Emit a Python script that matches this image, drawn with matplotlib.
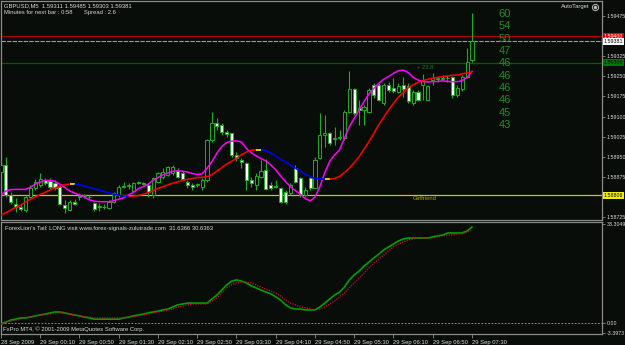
import matplotlib
matplotlib.use("Agg")
import matplotlib.pyplot as plt
from matplotlib.patches import Rectangle
from matplotlib.collections import LineCollection
import matplotlib.transforms as mtransforms

plt.rcParams['font.family'] = ['Liberation Sans', 'DejaVu Sans']

# GBPUSD M5 bars, 28 Sep 23:30 .. 29 Sep 07:30
open_ = [1.58894, 1.58919, 1.58807, 1.58774, 1.58764, 1.58751, 1.58799, 1.58832, 1.58845, 1.58863,
         1.58861, 1.58853, 1.58836, 1.58770, 1.58751, 1.58782, 1.58801, 1.58804, 1.58801, 1.58779,
         1.58766, 1.58764, 1.58758, 1.58782, 1.58807, 1.58838, 1.58841, 1.58823, 1.58856, 1.58853,
         1.58845, 1.58807, 1.58857, 1.58873, 1.58882, 1.58888, 1.58898, 1.58891, 1.58857, 1.58845,
         1.58843, 1.58838, 1.58863, 1.59013, 1.59077, 1.59069, 1.59041, 1.59037, 1.58957, 1.58938,
         1.58925, 1.58863, 1.58845, 1.58876, 1.58901, 1.58845, 1.58841, 1.58832, 1.58820, 1.58814,
         1.58907, 1.58869, 1.58807, 1.58869, 1.58832, 1.58944, 1.59031, 1.59037, 1.59015, 1.59019,
         1.59019, 1.59118, 1.59202, 1.59131, 1.59125, 1.59118, 1.59218, 1.59218, 1.59149, 1.59218,
         1.59205, 1.59193, 1.59218, 1.59214, 1.59149, 1.59193, 1.59218, 1.59162, 1.59236, 1.59241,
         1.59241, 1.59244, 1.59246, 1.59181, 1.59202, 1.59249, 1.59311]
high = [1.58925, 1.58950, 1.58820, 1.58795, 1.58774, 1.58807, 1.58845, 1.58866, 1.58891, 1.58869,
        1.58869, 1.58863, 1.58845, 1.58789, 1.58789, 1.58791, 1.58814, 1.58810, 1.58807, 1.58782,
        1.58776, 1.58774, 1.58789, 1.58820, 1.58845, 1.58857, 1.58851, 1.58857, 1.58858, 1.58857,
        1.58851, 1.58876, 1.58894, 1.58907, 1.58916, 1.58919, 1.58907, 1.58898, 1.58863, 1.58851,
        1.58853, 1.58869, 1.59015, 1.59118, 1.59093, 1.59075, 1.59050, 1.59040, 1.58969, 1.58944,
        1.58932, 1.58876, 1.58888, 1.58938, 1.58940, 1.58857, 1.58863, 1.58838, 1.58826, 1.58853,
        1.58919, 1.58876, 1.58838, 1.58876, 1.58950, 1.59112, 1.59106, 1.59044, 1.59062, 1.59050,
        1.59125, 1.59268, 1.59205, 1.59162, 1.59143, 1.59205, 1.59224, 1.59224, 1.59224, 1.59230,
        1.59243, 1.59224, 1.59249, 1.59224, 1.59199, 1.59199, 1.59259, 1.59218, 1.59261, 1.59251,
        1.59255, 1.59255, 1.59251, 1.59218, 1.59255, 1.59355, 1.59485]
low = [1.58888, 1.58801, 1.58774, 1.58745, 1.58749, 1.58745, 1.58791, 1.58826, 1.58838, 1.58845,
       1.58831, 1.58826, 1.58770, 1.58739, 1.58749, 1.58770, 1.58789, 1.58795, 1.58791, 1.58749,
       1.58749, 1.58754, 1.58754, 1.58779, 1.58801, 1.58832, 1.58828, 1.58820, 1.58848, 1.58843,
       1.58801, 1.58795, 1.58851, 1.58866, 1.58878, 1.58882, 1.58869, 1.58863, 1.58832, 1.58826,
       1.58838, 1.58826, 1.58857, 1.59006, 1.59050, 1.59031, 1.59025, 1.58950, 1.58935, 1.58907,
       1.58826, 1.58838, 1.58826, 1.58869, 1.58826, 1.58826, 1.58832, 1.58776, 1.58774, 1.58807,
       1.58851, 1.58801, 1.58801, 1.58826, 1.58832, 1.58940, 1.58988, 1.58994, 1.58994, 1.59013,
       1.59013, 1.59112, 1.59106, 1.59069, 1.59069, 1.59112, 1.59168, 1.59156, 1.59143, 1.59193,
       1.59187, 1.59187, 1.59174, 1.59149, 1.59143, 1.59156, 1.59162, 1.59156, 1.59218, 1.59230,
       1.59236, 1.59230, 1.59168, 1.59174, 1.59197, 1.59243, 1.59303]
close = [1.58919, 1.58807, 1.58782, 1.58764, 1.58755, 1.58799, 1.58832, 1.58857, 1.58866, 1.58851,
         1.58838, 1.58832, 1.58774, 1.58758, 1.58782, 1.58774, 1.58804, 1.58807, 1.58799, 1.58754,
         1.58761, 1.58761, 1.58782, 1.58814, 1.58836, 1.58841, 1.58843, 1.58851, 1.58851, 1.58848,
         1.58820, 1.58869, 1.58888, 1.58894, 1.58913, 1.58913, 1.58873, 1.58868, 1.58845, 1.58836,
         1.58847, 1.58863, 1.59013, 1.59075, 1.59065, 1.59044, 1.59034, 1.58957, 1.58944, 1.58929,
         1.58863, 1.58851, 1.58878, 1.58897, 1.58828, 1.58832, 1.58836, 1.58782, 1.58782, 1.58845,
         1.58857, 1.58807, 1.58826, 1.58832, 1.58938, 1.59031, 1.59037, 1.59000, 1.59021, 1.59025,
         1.59118, 1.59202, 1.59112, 1.59125, 1.59137, 1.59199, 1.59181, 1.59162, 1.59218, 1.59199,
         1.59195, 1.59214, 1.59202, 1.59156, 1.59193, 1.59162, 1.59236, 1.59214, 1.59243, 1.59243,
         1.59244, 1.59245, 1.59181, 1.59205, 1.59249, 1.59305, 1.59381]

# moving averages drawn over the candles
slow_ma = [1.58733, 1.58741, 1.58751, 1.58761, 1.58770, 1.58780, 1.58791, 1.58800, 1.58809, 1.58817,
           1.58826, 1.58833, 1.58841, 1.58846, 1.58847, 1.58847, 1.58845, 1.58840, 1.58835, 1.58830,
           1.58825, 1.58820, 1.58815, 1.58810, 1.58806, 1.58804, 1.58802, 1.58803, 1.58805, 1.58810,
           1.58816, 1.58823, 1.58832, 1.58838, 1.58845, 1.58851, 1.58856, 1.58861, 1.58866, 1.58869,
           1.58872, 1.58873, 1.58876, 1.58883, 1.58896, 1.58909, 1.58923, 1.58933, 1.58944, 1.58957,
           1.58967, 1.58974, 1.58976, 1.58976, 1.58972, 1.58963, 1.58952, 1.58940, 1.58930, 1.58919,
           1.58907, 1.58896, 1.58884, 1.58876, 1.58869, 1.58867, 1.58866, 1.58866, 1.58869, 1.58876,
           1.58891, 1.58907, 1.58928, 1.58950, 1.58978, 1.59006, 1.59037, 1.59069, 1.59097, 1.59125,
           1.59149, 1.59172, 1.59189, 1.59207, 1.59218, 1.59228, 1.59234, 1.59239, 1.59243, 1.59246,
           1.59249, 1.59251, 1.59254, 1.59255, 1.59259, 1.59263, 1.59266]
fast_ma = [1.58807, 1.58822, 1.58827, 1.58828, 1.58828, 1.58828, 1.58836, 1.58848, 1.58856, 1.58861,
           1.58862, 1.58858, 1.58847, 1.58835, 1.58822, 1.58814, 1.58807, 1.58799, 1.58789, 1.58784,
           1.58782, 1.58782, 1.58782, 1.58786, 1.58791, 1.58797, 1.58807, 1.58817, 1.58831, 1.58838,
           1.58848, 1.58862, 1.58872, 1.58882, 1.58889, 1.58896, 1.58897, 1.58896, 1.58893, 1.58887,
           1.58884, 1.58886, 1.58907, 1.58932, 1.58963, 1.58988, 1.59003, 1.59008, 1.59009, 1.59005,
           1.58981, 1.58965, 1.58953, 1.58943, 1.58934, 1.58919, 1.58901, 1.58878, 1.58857, 1.58838,
           1.58823, 1.58810, 1.58794, 1.58785, 1.58799, 1.58838, 1.58891, 1.58932, 1.58957, 1.58975,
           1.59019, 1.59062, 1.59093, 1.59125, 1.59156, 1.59184, 1.59205, 1.59224, 1.59239, 1.59249,
           1.59261, 1.59271, 1.59273, 1.59264, 1.59246, 1.59236, 1.59230, 1.59229, 1.59230, 1.59231,
           1.59233, 1.59231, 1.59230, 1.59230, 1.59234, 1.59246, 1.59268]

# ForexLion's Tail sub-window
tail_green = [-0.3, 0.3, 1.0, 1.3, 1.7, 1.7, 2.0, 2.4, 2.7, 3.0,
              3.4, 3.7, 3.7, 3.4, 3.0, 2.7, 2.4, 2.0, 1.7, 1.3,
              1.3, 1.3, 1.3, 1.3, 1.3, 1.7, 2.0, 2.4, 2.7, 3.0,
              3.4, 3.7, 4.0, 4.4, 4.7, 5.4, 6.1, 6.4, 6.7, 6.7,
              6.7, 6.7, 6.7, 8.1, 9.4, 11.1, 12.8, 14.1, 14.5, 14.1,
              13.5, 12.5, 11.8, 11.1, 10.4, 9.8, 8.8, 7.7, 6.1, 5.1,
              4.7, 4.7, 4.4, 4.4, 4.4, 5.4, 6.7, 8.1, 9.4, 10.4,
              12.1, 14.5, 16.2, 17.5, 19.2, 20.5, 21.9, 23.2, 24.6, 25.6,
              26.6, 27.6, 28.3, 28.6, 28.6, 28.6, 28.6, 28.6, 29.0, 29.3,
              29.6, 30.3, 30.3, 30.3, 30.3, 31.0, 32.3]
tail_red = [-0.3, 0.3, 0.7, 1.0, 1.3, 1.7, 2.0, 2.4, 2.7, 2.9,
            3.0, 3.4, 3.4, 3.4, 3.0, 2.7, 2.4, 2.0, 2.0, 1.7,
            1.7, 1.7, 1.7, 1.7, 1.7, 1.7, 2.0, 2.0, 2.4, 2.7,
            3.0, 3.4, 3.7, 4.0, 4.4, 4.7, 5.4, 5.7, 6.1, 6.4,
            6.4, 6.4, 6.4, 7.4, 8.4, 10.1, 11.8, 12.8, 13.5, 13.8,
            13.8, 13.5, 12.8, 12.1, 11.4, 10.8, 10.1, 9.1, 7.7, 6.7,
            6.1, 5.4, 5.1, 4.7, 4.4, 4.7, 5.4, 6.4, 7.4, 8.8,
            10.1, 11.8, 13.5, 15.2, 16.8, 18.5, 20.2, 21.5, 22.9, 24.2,
            25.6, 26.6, 27.3, 27.9, 28.3, 28.6, 28.6, 28.6, 28.6, 29.0,
            29.3, 29.6, 29.6, 30.0, 30.0, 30.6, 31.3]

time_labels = ["28 Sep 2009", "29 Sep 00:10", "29 Sep 00:50", "29 Sep 01:30", "29 Sep 02:10",
               "29 Sep 02:50", "29 Sep 03:30", "29 Sep 04:10", "29 Sep 04:50", "29 Sep 05:30",
               "29 Sep 06:10", "29 Sep 06:50", "29 Sep 07:30"]
price_ticks = [1.59475, 1.59400, 1.59325, 1.59250, 1.59175, 1.59100, 1.59025,
               1.58950, 1.58875, 1.58800, 1.58725]
target_labels = ["60", "54", "50", "47", "46", "46", "46", "46", "45", "43"]

ask_line = 1.59400
bid_line = 1.59381
target_line = 1.59300
girlfriend_line = 1.58806

BG = '#090d09'
WICK = '#1fae1f'
FRAME = '#8a8a8a'
TXT = '#d8d8d8'
FS = 4.2
FS_AXIS = 3.8

W, H = 625, 345
fig = plt.figure(figsize=(6.25, 3.45), dpi=100, facecolor=BG)


def px_axes(x0, y0, x1, y1):
    return fig.add_axes([x0 / W, 1 - y1 / H, (x1 - x0) / W, (y1 - y0) / H], facecolor=BG)


ax = px_axes(1, 1, 602, 220)
ax2 = px_axes(1, 222, 602, 334)

n = len(close)
x = list(range(n))
xmax = 601 / 4.906

# candles
ax.vlines(x, low, high, color=WICK, lw=0.8, zorder=2)
for i in range(n):
    o, c = open_[i], close[i]
    face = '#ffffff' if c < o else BG
    ax.add_patch(Rectangle((i - 0.32, min(o, c)), 0.64, abs(c - o),
                           facecolor=face, edgecolor=WICK, lw=0.7, zorder=3))

# horizontal levels
ax.axhline(ask_line, color='#b00000', lw=0.9, zorder=1)
ax.axhline(bid_line, color='#9a9a9a', lw=0.8, ls=(0, (4, 1)), zorder=1)
ax.axhline(target_line, color='#006000', lw=0.9, zorder=1)
ax.axhline(girlfriend_line, color='#c8c800', lw=0.9, zorder=1)

# slow MA coloured by slope
segs, cols = [], []
for k in range(n - 1):
    segs.append([(x[k], slow_ma[k]), (x[k + 1], slow_ma[k + 1])])
    d = slow_ma[k + 1] - slow_ma[k]
    cols.append('#ff0000' if d > 0 else ('#0000ff' if d < 0 else '#ffff00'))
ax.add_collection(LineCollection(segs, colors=cols, linewidths=1.15, zorder=5))
ax.plot(x, fast_ma, color='#ff00ff', lw=1.1, zorder=4)

ax.set_xlim(0, xmax)
ax.set_ylim(1.587138, 1.59531)
ax.set_xticks([])
ax.yaxis.tick_right()
ax.set_yticks(price_ticks)
# 1.59400 and 1.58800 sit under the coloured level boxes
ax.set_yticklabels(["" if p in (ask_line, 1.58800) else f"{p:.5f}" for p in price_ticks])
ax.tick_params(axis='y', length=2, width=0.6, color=FRAME, labelsize=FS_AXIS,
               labelcolor=TXT, pad=1.2)
for s in ax.spines.values():
    s.set_color(FRAME)
    s.set_linewidth(0.9)

# price boxes on the right scale
blend = mtransforms.blended_transform_factory(ax.transAxes, ax.transData)
for price, fc, tc in [(ask_line, '#e00000', '#ffffff'), (bid_line, '#ffffff', '#000000'),
                      (target_line, '#007800', '#000000'), (girlfriend_line, '#f0f000', '#000000')]:
    ax.text(1.003, price, f"{price:.5f}", transform=blend, fontsize=FS_AXIS, color=tc,
            va='center', ha='left', clip_on=False, zorder=10,
            bbox=dict(boxstyle='square,pad=0.2', fc=fc, ec='none'))

# texts in main window
ax.text(0.005, 0.977, "GBPUSD,M5  1.59311 1.59485 1.59303 1.59381", transform=ax.transAxes,
        fontsize=FS, color=TXT, va='center', ha='left')
ax.text(0.005, 0.948, "Minutes for next bar : 0:58       Spread : 2.6", transform=ax.transAxes,
        fontsize=FS, color=TXT, va='center', ha='left')
ax.text(0.979, 0.973, "AutoTarget", transform=ax.transAxes, fontsize=FS, color=TXT,
        va='center', ha='right')
ax.plot([0.988], [0.973], transform=ax.transAxes, marker='o', ms=4.5, mfc='none',
        mec='#bbbbbb', mew=0.7, clip_on=False)
ax.plot([0.988], [0.973], transform=ax.transAxes, marker='o', ms=1.5, color='#bbbbbb',
        clip_on=False)
for k, lab in enumerate(target_labels):
    ax.text(0.8386, 0.94 - k * 0.0563, lab, transform=ax.transAxes, fontsize=8,
            color='#1f8f1f', va='center', ha='center')
ax.text(0.705, 0.696, "+ 23.8", transform=ax.transAxes, fontsize=FS, color='#217a21',
        va='center', ha='center')
ax.text(0.705, 0.096, "Girlfriend", transform=ax.transAxes, fontsize=FS, color='#b8a400',
        va='center', ha='center')

# sub-window
ax2.plot(x, tail_green, color='#00a000', lw=1.2, zorder=3)
ax2.plot(x, tail_red, color='#c8102e', lw=0.9, ls=(0, (1, 1)), zorder=4)
ax2.axhline(0, color='#a0a0a0', lw=0.6, ls=(0, (2, 2)))
ax2.set_xlim(0, xmax)
ax2.set_ylim(-3.7, 34.0)
ax2.yaxis.tick_right()
ax2.set_yticks([33.3049, 0.0, -3.3973])
ax2.set_yticklabels(["33.3049", "0.00", "-3.3973"])
ax2.tick_params(axis='y', length=2, width=0.6, color=FRAME, labelsize=FS_AXIS,
                labelcolor=TXT, pad=1.2)
ax2.set_xticks(list(range(0, n, 8)))
ax2.set_xticklabels(time_labels)
ax2.tick_params(axis='x', length=3, width=0.6, color=FRAME, labelsize=FS,
                labelcolor=TXT, pad=1.5)
for lab in ax2.get_xticklabels():
    lab.set_horizontalalignment('left')
for s in ax2.spines.values():
    s.set_color(FRAME)
    s.set_linewidth(0.9)
ax2.text(0.006, 0.946, "ForexLion's Tail: LONG visit www.forex-signals-zulutrade.com  31.6366 30.6363",
         transform=ax2.transAxes, fontsize=FS, color=TXT, va='center', ha='left')
ax2.text(0.004, 0.045, "FxPro MT4, \u00a9 2001-2009 MetaQuotes Software Corp.",
         transform=ax2.transAxes, fontsize=FS, color=TXT, va='center', ha='left')

fig.savefig("out.png", dpi=100, facecolor=BG)
